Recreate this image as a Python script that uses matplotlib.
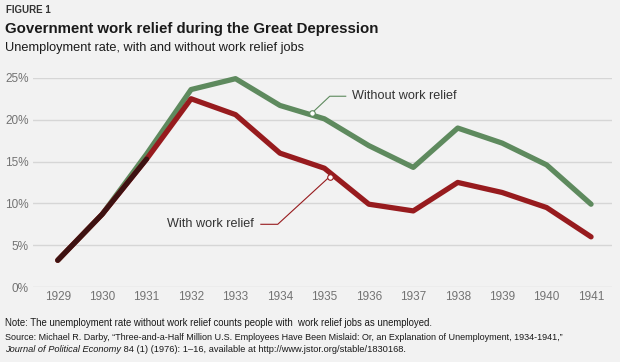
import matplotlib
matplotlib.use('Agg')
import matplotlib.pyplot as plt
import numpy as np
from matplotlib import font_manager

years = [1929, 1930, 1931, 1932, 1933, 1934, 1935, 1936, 1937, 1938, 1939, 1940, 1941]
without_relief = [3.2, 8.7, 15.9, 23.6, 24.9, 21.7, 20.1, 16.9, 14.3, 19.0, 17.2, 14.6, 9.9]
with_relief = [3.2, 8.7, 15.3, 22.5, 20.6, 16.0, 14.2, 9.9, 9.1, 12.5, 11.3, 9.5, 6.0]
y_ticks = [0, 5, 10, 15, 20, 25]

names = {f.name for f in font_manager.fontManager.ttflist}
narrow = 'Liberation Sans Narrow' if 'Liberation Sans Narrow' in names else 'Liberation Sans'
plt.rcParams['font.family'] = [narrow, 'DejaVu Sans']

bg = '#f2f2f2'
green = '#5e8a5e'
red = '#971b1e'
dark = '#3d1212'

fig = plt.figure(figsize=(6.2, 3.62), dpi=100, facecolor=bg)
ax = fig.add_axes([0.053, 0.207, 0.934, 0.578], facecolor=bg)

ax.plot(years, without_relief, color=green, lw=3.8, solid_capstyle='round', clip_on=False, zorder=3)
ax.plot(years, with_relief, color=red, lw=3.8, solid_capstyle='round', clip_on=False, zorder=4)

# where the two series (nearly) coincide the lines blend to a dark brown
yrs = np.array(years)
w = np.array(without_relief)
r = np.array(with_relief)
close = np.abs(w - r) < 1
ax.plot(yrs[close], r[close], color=dark, lw=3.6, solid_capstyle='round', zorder=5)

ax.set_xlim(1928.44, 1941.47)
ax.set_ylim(0, 25)
ax.set_yticks(y_ticks)
ax.set_yticklabels([f'{t}%' for t in y_ticks])
ax.set_xticks(years)
ax.set_xticklabels([str(y) for y in years])
ax.tick_params(length=0, labelsize=8.5, colors='#737373', pad=3)
ax.grid(axis='y', color='#d6d6d6', lw=1)
ax.set_axisbelow(True)
for s in ax.spines.values():
    s.set_visible(False)

# annotations
ax.plot([1934.72, 1935.12, 1935.48], [20.8, 22.8, 22.8], color=green, lw=0.8, zorder=6)
ax.plot([1934.72], [20.8], 'o', ms=4, mfc='white', mec=green, mew=0.8, zorder=7)
ax.text(1935.62, 22.8, 'Without work relief', fontsize=9.1, color='#333333', va='center', ha='left')

ax.plot([1935.12, 1933.95, 1933.57], [13.2, 7.5, 7.5], color=red, lw=0.8, zorder=6)
ax.plot([1935.12], [13.2], 'o', ms=4, mfc='white', mec=red, mew=0.8, zorder=7)
ax.text(1933.42, 7.5, 'With work relief', fontsize=9.1, color='#333333', va='center', ha='right')

# header
fig.text(0.01, 1 - 10 / 362, 'FIGURE 1', fontsize=7, fontweight='bold', color='#333333', va='center')
fig.text(0.008, 1 - 29 / 362, 'Government work relief during the Great Depression', fontsize=10.8,
         fontweight='bold', color='#1a1a1a', va='center')
fig.text(0.008, 1 - 48 / 362, 'Unemployment rate, with and without work relief jobs', fontsize=9.2,
         color='#1a1a1a', va='center')

# footer
fig.text(0.008, 1 - 323 / 362, 'Note: The unemployment rate without work relief counts people with  work relief jobs as unemployed.',
         fontsize=6.9, color='#1a1a1a', va='center')
fig.text(0.008, 1 - 338 / 362, 'Source: Michael R. Darby, \u201cThree-and-a-Half Million U.S. Employees Have Been Mislaid: Or, an Explanation of Unemployment, 1934-1941,\u201d',
         fontsize=6.5, color='#1a1a1a', va='center')
jt = fig.text(0.008, 1 - 350 / 362, 'Journal of Political Economy', fontsize=6.7, style='italic',
              color='#1a1a1a', va='center')
renderer = fig.canvas.get_renderer()
bb = jt.get_window_extent(renderer)
fig.text(bb.x1 / fig.bbox.width, 1 - 350 / 362,
         ' 84 (1) (1976): 1\u201316, available at http://www.jstor.org/stable/1830168.',
         fontsize=6.7, color='#1a1a1a', va='center')

fig.savefig('out.png', dpi=100, facecolor=bg)
